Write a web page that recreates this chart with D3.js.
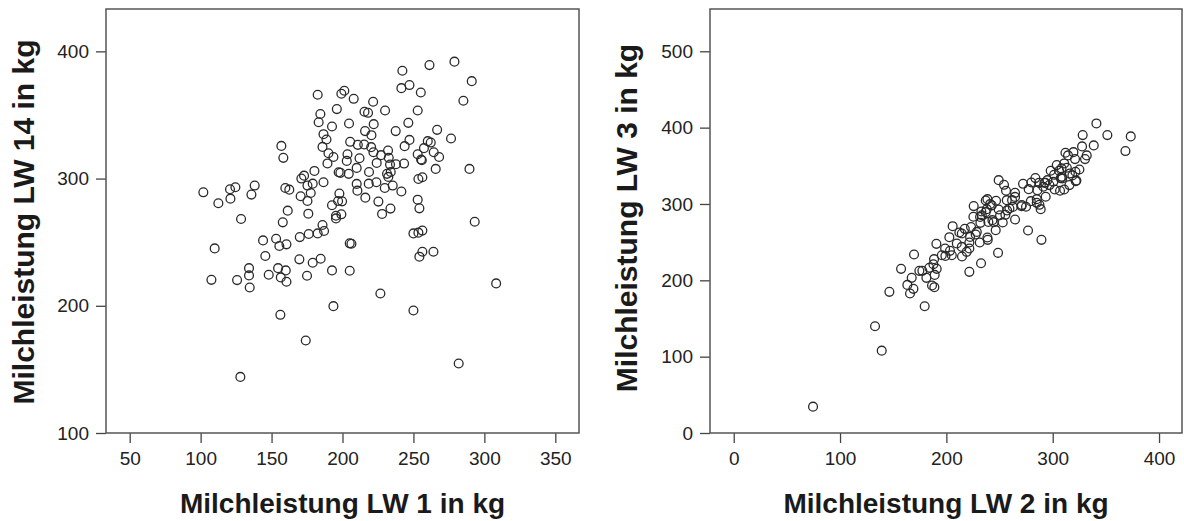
<!DOCTYPE html>
<html>
<head>
<meta charset="utf-8">
<script src="https://cdn.jsdelivr.net/npm/d3@7/dist/d3.min.js"></script>
<style>
  html, body { margin: 0; padding: 0; background: #fff; }
  svg { display: block; font-family: "Liberation Sans", Arial, sans-serif; }
</style>
</head>
<body>
<svg id="chart" width="1184" height="521"></svg>
<script>
// ---- Data ----
const leftXTicks = [50, 100, 150, 200, 250, 300, 350];
const leftYTicks = [100, 200, 300, 400];
const rightXTicks = [0, 100, 200, 300, 400];
const rightYTicks = [0, 100, 200, 300, 400, 500];

const leftXTitle = "Milchleistung LW 1 in kg";
const leftYTitle = "Milchleistung LW 14 in kg";
const rightXTitle = "Milchleistung LW 2 in kg";
const rightYTitle = "Milchleistung LW 3 in kg";

// Left panel: LW 1 (x) vs LW 14 (y)
const lw1 = [278.9,261.3,242.2,291.1,247.2,241.5,201.3,199.2,255.2,182.5,207.9,221.6,285.2,196,215.5,218,230,253,184.4,183.2,204.6,192.6,222,246.4,215.9,237.5,220.4,186.6,188.7,205.4,247.2,266.7,276.5,260.1,262.2,156.9,185.9,210.8,215.3,220.2,243.8,257.4,158.3,190.1,193.6,203.5,212,221.8,227.2,232.1,232.6,253,255.4,264.3,268.1,189.4,203,224.1,233.5,237.7,243.4,255.9,180.2,197.3,198.5,204.4,210,218.7,231.4,234,232.3,265.7,289.5,172.9,171,186.6,175.3,179,210,218.5,223.9,253.5,256.3,235.4,229.8,210.5,101.9,120.7,124.5,138.1,135.8,121,112.5,159.7,162.5,170.5,177.6,175.3,197.8,199.7,196.9,192.6,216.1,225.3,241.5,253,254.2,233.8,227.9,161.4,175.9,199.2,195.4,195.4,128.5,157.9,293.2,185.9,182.5,187,176.2,169.9,250,253.5,256.3,144,153.2,155.5,160.5,205.1,206.3,109.9,145.6,169.6,179,184.6,256.3,264.1,254.2,134.1,134.1,154.6,160,148,156.5,160.5,175,192.6,205.1,107.6,125.7,134.6,308.3,226.7,193.6,250,156.2,174.1,281.9,128];
const lw14 = [391.9,389.2,384.8,376.6,373.5,371.1,369,366.7,367.7,365.9,362.7,360.4,361.2,354.6,352.5,351.7,353.5,353.5,350.8,344.3,343.3,340.9,342.8,343.8,337.3,337.3,334.1,334.9,330.7,328.9,330.4,338.3,331.5,329.4,328.3,325.7,324.9,326.5,326.8,324.7,325.5,323.9,316.3,319.9,317,319.1,316,320.7,318.4,322,316.3,319.1,315,320.7,317,311.9,313.9,312.3,311,311.3,311.8,314.4,306,305,304.5,303.7,308.4,305.2,303.7,305.2,301.3,307.6,307.6,302.3,300,297.1,294.5,296,295.8,296,297.1,299.7,301,294.5,292.6,290.5,289.2,291.6,293.2,294.5,287.4,284.2,280.6,292.6,291.3,286.1,288.7,282.4,288.2,282.1,282.4,279,285,281.9,289.8,283.4,276.6,276.4,272.2,274.8,272.4,271.9,270.8,268.7,268.2,265.6,266.1,263.5,256.9,258.8,256.4,254,256.9,257.5,259.1,251.4,252.7,247,248.3,249.1,248.8,245.1,239.1,236.5,233.8,237,242.5,242.5,238.6,229.6,223.9,229.6,227.8,224.4,222.3,218.9,223.6,227.8,227.5,220.4,220.2,214.4,217.6,209.7,199.7,196.3,192.9,172.7,154.6,144.1];

// Right panel: LW 2 (x) vs LW 3 (y)
const lw2 = [74.6,132.9,139.2,146.4,179.6,157.4,167.4,163.3,165.8,169,169.6,174.6,177.4,181.2,184,186.5,188.7,189,190.9,188.4,190.6,199.1,203.4,202.8,205.9,214.7,212.2,217.3,219.1,221.6,221.6,225.7,225.4,227.6,231.4,232,232.6,237,237,238.9,241.1,244.5,246.4,246.7,249.2,248.6,249.2,253,254.2,256.1,255.5,259.3,261.8,264.6,264.6,270.9,272.1,274.9,276.8,277.4,279.9,283.7,285,287.5,288.7,289.4,291.2,293.4,295,298.1,301.9,303.8,306,307.5,306.9,310.8,310.8,312,313.3,314.4,315.7,319.5,321,321.7,325.1,328.2,327.6,330.4,332,338.6,341.1,351.4,368.4,373.4,301.3,308.6,318.5,322.3,292.2,287.2,285,270.6,279.4,264.6,262.5,256.8,242.7,238.6,238,232.9,233.3,231.7,243.3,250.5,257.1,239.5,223.2,214.5,222.3,228.6,238.6,214.5,221.6,209.8,198.8,205.1,195.7,187.8,308.3,316.1,321.4,309,300.6,296.9,293.1,285.6];
const lw3 = [34.5,139.8,107.9,184.9,166.1,215,203.2,194,182.7,188.8,233.8,212.4,212.4,203.2,216.3,193.2,191,207.1,215,227.7,247.8,232,238.6,256.5,270.9,231.2,262.6,267.4,237.3,211.1,249.5,297.2,283.2,260,249.5,275.3,222.4,289.3,304.6,253,299.8,276.2,265.7,304.2,331.2,236,292.8,275.7,325.1,317.3,285.8,294.1,305,314.6,279.7,298.5,326.4,296.3,265.3,319.4,328.2,333.9,301.5,298.9,293.2,253,322.5,309.4,331.2,343.5,319,350.9,343.5,333.9,317.3,319,353.1,367.1,347.4,363.6,324.7,367.9,358.8,329.9,345.2,390.2,375.4,358.8,363.6,376.7,405.5,390.2,369.3,388.5,338.2,335.5,337.4,330.8,327.7,327.7,306.3,297,303.7,309.3,296.2,305,298.2,306.3,293.2,290.2,285.3,283.1,278.8,285.3,291.6,276.5,269.9,261.3,256.9,263.4,256.1,243.8,241.7,248.2,241.7,232.9,232.9,221.1,346.6,340,342.2,333.4,329.1,324.7,327.8,318.1];

// ---- Drawing ----
const svg = d3.select("#chart");
const FONT = '"Liberation Sans", Arial, sans-serif';

function panel(cfg) {
  const x = d3.scaleLinear().domain(cfg.xDomain).range([cfg.left, cfg.right]);
  const y = d3.scaleLinear().domain(cfg.yDomain).range([cfg.bottom, cfg.top]);
  const g = svg.append("g");

  // axes
  const xa = g.append("g").attr("transform", `translate(0,${cfg.bottom})`)
    .call(d3.axisBottom(x).tickValues(cfg.xTicks).tickSize(10).tickSizeOuter(0).tickPadding(9).tickFormat(d3.format("d")));
  const ya = g.append("g").attr("transform", `translate(${cfg.left},0)`)
    .call(d3.axisLeft(y).tickValues(cfg.yTicks).tickSize(10).tickSizeOuter(0).tickPadding(7).tickFormat(d3.format("d")));
  [xa, ya].forEach(a => {
    a.select(".domain").remove();
    a.selectAll(".tick line").attr("stroke", "#444").attr("stroke-width", 1.3);
    a.selectAll(".tick text").attr("fill", "#222").style("font-size", "19px").style("font-family", FONT);
  });

  // frame
  g.append("rect")
    .attr("x", cfg.left).attr("y", cfg.top)
    .attr("width", cfg.right - cfg.left).attr("height", cfg.bottom - cfg.top)
    .attr("fill", "none").attr("stroke", "#555").attr("stroke-width", 1.5);

  // points
  g.append("g").selectAll("circle")
    .data(cfg.xs.map((v, i) => [v, cfg.ys[i]]))
    .join("circle")
    .attr("cx", d => x(d[0]))
    .attr("cy", d => y(d[1]))
    .attr("r", 4.4)
    .attr("fill", "none")
    .attr("stroke", "#2a2a2a")
    .attr("stroke-width", 1.3);

  // titles
  g.append("text")
    .attr("x", (cfg.left + cfg.right) / 2).attr("y", 513)
    .attr("text-anchor", "middle")
    .style("font-family", FONT).style("font-size", "28px").style("font-weight", "bold")
    .attr("fill", "#1a1a1a")
    .text(cfg.xTitle);
  g.append("text")
    .attr("transform", `translate(${cfg.yTitleX},${cfg.yTitleY}) rotate(-90)`)
    .attr("text-anchor", "middle")
    .style("font-family", FONT).style("font-size", "30px").style("font-weight", "bold")
    .attr("fill", "#1a1a1a")
    .text(cfg.yTitle);
}

panel({
  left: 106, right: 579, top: 9, bottom: 433,
  xDomain: [33.3, 366.7], yDomain: [100, 433.3],
  xTicks: leftXTicks, yTicks: leftYTicks,
  xs: lw1, ys: lw14,
  xTitle: leftXTitle, yTitle: leftYTitle, yTitleX: 34, yTitleY: 222
});

panel({
  left: 710, right: 1182, top: 9, bottom: 433,
  xDomain: [-22.3, 421.6], yDomain: [0, 555.4],
  xTicks: rightXTicks, yTicks: rightYTicks,
  xs: lw2, ys: lw3,
  xTitle: rightXTitle, yTitle: rightYTitle, yTitleX: 637, yTitleY: 218
});
</script>
</body>
</html>
